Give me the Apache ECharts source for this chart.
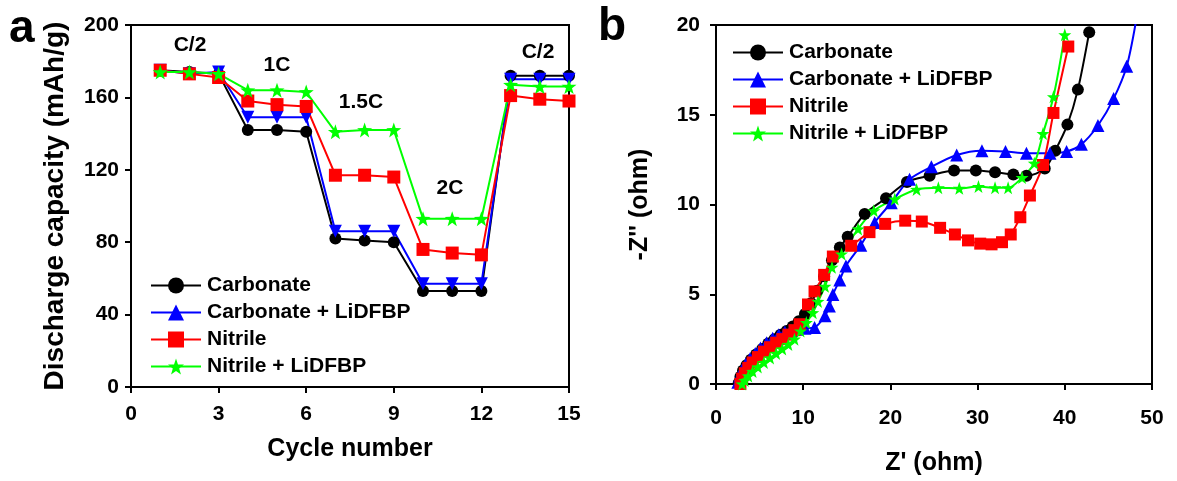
<!DOCTYPE html>
<html>
<head>
<meta charset="utf-8">
<script src="https://cdn.jsdelivr.net/npm/echarts@6/dist/echarts.min.js"></script>
<style>
  html, body { margin: 0; padding: 0; background: #fff; }
  #chart { width: 1177px; height: 481px; }
</style>
</head>
<body>
<div id="chart"></div>
<script>
// ---- Panel a: rate capability ----
const cycles = [1, 2, 3, 4, 5, 6, 7, 8, 9, 10, 11, 12, 13, 14, 15];
const carbonateCap       = [175, 174, 173, 142, 142, 141, 82, 81, 80, 53, 53, 53, 172, 172, 172];
const carbonateLiCap     = [175, 173, 174, 149, 149, 149, 86, 86, 86, 57, 57, 57, 170, 170, 170];
const nitrileCap         = [175, 173, 171, 158, 156, 155, 117, 117, 116, 76, 74, 73, 161, 159, 158];
const nitrileLiCap       = [174, 174, 173, 164, 164, 163, 141, 142, 142, 93, 93, 93, 167, 166, 166];
const rateLabels = ['C/2', '1C', '1.5C', '2C', 'C/2'];

// ---- Panel b: Nyquist plots, [Z', -Z''] in ohm ----
const carbonateEis = [
  [2.6, 0.05], [2.8, 0.4], [3.1, 0.75], [3.5, 1.05], [4.0, 1.35], [4.6, 1.65], [5.3, 1.95],
  [6.0, 2.25], [6.7, 2.5], [7.4, 2.75], [8.1, 2.95], [8.8, 3.2], [9.5, 3.5], [10.2, 3.9],
  [10.9, 4.5], [11.6, 5.2], [12.4, 6.0], [13.3, 6.9], [14.2, 7.6], [15.1, 8.2], [17.05, 9.47],
  [19.5, 10.35], [21.9, 11.25], [24.5, 11.6], [27.3, 11.9], [29.8, 11.9], [32.0, 11.8],
  [34.1, 11.67], [35.6, 11.6], [37.7, 12.0], [38.9, 13.0], [40.3, 14.45], [41.5, 16.4], [42.8, 19.6]
];
const carbonateLiEis = [
  [2.5, 0.1], [2.7, 0.45], [3.0, 0.8], [3.4, 1.1], [3.9, 1.4], [4.5, 1.7], [5.1, 2.0],
  [5.8, 2.3], [6.5, 2.55], [7.2, 2.75], [7.9, 2.9], [8.6, 3.0], [9.3, 3.05], [10.2, 3.1],
  [11.3, 3.15], [12.5, 3.8], [13.0, 4.34], [13.4, 4.98], [14.2, 5.8], [14.9, 6.58], [16.6, 7.73],
  [18.2, 9.0], [20.1, 10.1], [22.2, 11.4], [24.7, 12.1], [27.6, 12.76], [30.5, 13.0], [33.2, 12.95],
  [35.6, 12.86], [38.3, 12.86], [40.2, 12.95], [41.9, 13.35], [43.8, 14.4], [45.6, 15.9],
  [47.1, 17.7], [48.3, 20.6]
];
const nitrileEis = [
  [2.8, 0.0], [3.0, 0.3], [3.3, 0.6], [3.7, 0.9], [4.2, 1.2], [4.8, 1.5], [5.5, 1.8],
  [6.2, 2.05], [6.9, 2.3], [7.6, 2.5], [8.3, 2.75], [9.0, 3.0], [9.6, 3.33], [10.55, 4.43],
  [11.3, 5.16], [12.4, 6.08], [13.4, 7.1], [15.5, 7.7], [17.6, 8.46], [19.4, 8.92], [21.7, 9.1],
  [23.6, 9.05], [25.7, 8.7], [27.4, 8.33], [28.9, 8.0], [30.3, 7.82], [31.6, 7.78], [32.8, 7.9],
  [33.8, 8.33], [34.9, 9.29], [36.0, 10.5], [37.5, 12.2], [38.7, 15.1], [40.4, 18.8]
];
const nitrileLiEis = [
  [3.0, 0.0], [3.3, 0.2], [3.7, 0.45], [4.2, 0.7], [4.8, 0.95], [5.5, 1.2], [6.2, 1.45],
  [6.9, 1.7], [7.6, 1.95], [8.3, 2.2], [9.0, 2.5], [9.7, 2.95], [10.36, 3.42], [11.1, 3.97],
  [11.7, 4.6], [12.5, 5.44], [13.3, 6.5], [14.4, 7.24], [16.3, 8.64], [18.1, 9.65], [20.5, 10.3],
  [23.0, 10.84], [25.5, 10.93], [27.9, 10.9], [30.1, 11.0], [32.0, 10.93], [33.5, 10.93],
  [35.1, 11.5], [36.5, 12.3], [37.5, 13.95], [38.7, 16.0], [40.0, 19.45]
];

const seriesNames = ['Carbonate', 'Carbonate + LiDFBP', 'Nitrile', 'Nitrile + LiDFBP'];
const colors = ['#000000', '#0000ff', '#ff0000', '#00ff00'];

const FONT = '"Liberation Sans", Arial, sans-serif';
const boldText = (size) => ({ fontFamily: FONT, fontWeight: 'bold', fontSize: size, color: '#000' });

const chart = echarts.init(document.getElementById('chart'), null, { renderer: 'canvas' });

const axisCommon = {
  axisLine: { show: true, onZero: false, lineStyle: { color: '#000', width: 2 } },
  axisTick: { show: true, inside: false, length: 6, lineStyle: { color: '#000', width: 2 } },
  splitLine: { show: false },
  nameLocation: 'middle',
  nameTextStyle: boldText(25)
};

const starPath = 'path://M0,-10 L2.35,-3.24 L9.51,-3.09 L3.8,1.24 L5.88,8.09 L0,4 L-5.88,8.09 L-3.8,1.24 L-9.51,-3.09 L-2.35,-3.24 Z';

function lineSeries(name, idx, data, axisIdx, symbol, size, extra) {
  return Object.assign({
    name, type: 'line', data,
    xAxisIndex: axisIdx, yAxisIndex: axisIdx,
    symbol, symbolSize: size,
    color: colors[idx],
    lineStyle: { color: colors[idx], width: 2 },
    itemStyle: { color: colors[idx] },
    emphasis: { disabled: true },
    clip: true,
    animation: false
  }, extra || {});
}

const pairs = (ys) => cycles.map((c, i) => [c, ys[i]]);

const legendBase = {
  orient: 'vertical', itemWidth: 50, itemHeight: 20, itemGap: 6,
  symbolRotate: 0,
  textStyle: Object.assign(boldText(21), { padding: [0, 0, 0, 1] }),
  data: seriesNames.slice(),
  selectedMode: false
};

const option = {
  backgroundColor: '#fff',
  animation: false,
  grid: [
    { left: 131, top: 25, width: 438, height: 362, show: true, borderColor: '#000', borderWidth: 2, backgroundColor: 'transparent' },
    { left: 716, top: 25, width: 436, height: 364, show: true, borderColor: '#000', borderWidth: 2, backgroundColor: 'transparent' }
  ],
  xAxis: [
    Object.assign({}, axisCommon, {
      gridIndex: 0, type: 'value', min: 0, max: 15, interval: 3,
      name: 'Cycle number', nameGap: 50,
      axisLabel: Object.assign(boldText(21), { margin: 17 })
    }),
    Object.assign({}, axisCommon, {
      gridIndex: 1, type: 'value', min: 0, max: 50, interval: 10,
      name: "Z' (ohm)", nameGap: 67,
      axisLabel: Object.assign(boldText(21), { margin: 24 })
    })
  ],
  yAxis: [
    Object.assign({}, axisCommon, {
      gridIndex: 0, type: 'value', min: 0, max: 200, interval: 40,
      name: 'Discharge capacity (mAh/g)', nameGap: 62,
      nameTextStyle: boldText(28),
      axisLabel: Object.assign(boldText(21), { margin: 12 })
    }),
    Object.assign({}, axisCommon, {
      gridIndex: 1, type: 'value', min: 0, max: 20, interval: 5,
      name: "-Z'' (ohm)", nameGap: 63,
      axisLabel: Object.assign(boldText(21), { margin: 16 })
    })
  ],
  legend: [
    Object.assign({}, legendBase, { left: 145, top: 270 }),
    Object.assign({}, legendBase, { left: 727, top: 37 })
  ],
  graphic: [],
  series: []
};

// panel a series
option.series.push(
  lineSeries(seriesNames[0], 0, pairs(carbonateCap), 0, 'circle', 12),
  lineSeries(seriesNames[1], 1, pairs(carbonateLiCap), 0, 'triangle', 13, { symbolRotate: 180 }),
  lineSeries(seriesNames[2], 2, pairs(nitrileCap), 0, 'rect', 13),
  lineSeries(seriesNames[3], 3, pairs(nitrileLiCap), 0, starPath, 15)
);
// panel b series
option.series.push(
  lineSeries(seriesNames[0], 0, carbonateEis, 1, 'circle', 12, { smooth: 0.3 }),
  lineSeries(seriesNames[1], 1, carbonateLiEis, 1, 'triangle', 13, { smooth: 0.3 }),
  lineSeries(seriesNames[2], 2, nitrileEis, 1, 'rect', 12, { smooth: 0.3 }),
  lineSeries(seriesNames[3], 3, nitrileLiEis, 1, starPath, 13, { smooth: 0.3 })
);

// rate annotations and panel letters
const rateLabelPos = [[190, 45], [277, 65], [361, 102], [450, 188], [538, 52]];
rateLabels.forEach((t, i) => {
  option.graphic.push({
    type: 'text', x: rateLabelPos[i][0], y: rateLabelPos[i][1], silent: true,
    style: { text: t, font: 'bold 21px ' + FONT, fill: '#000', align: 'center', verticalAlign: 'middle' }
  });
});
option.graphic.push(
  { type: 'text', x: 9, y: 29, silent: true, style: { text: 'a', font: 'bold 46px ' + FONT, fill: '#000', verticalAlign: 'middle' } },
  { type: 'text', x: 598, y: 27, silent: true, style: { text: 'b', font: 'bold 46px ' + FONT, fill: '#000', verticalAlign: 'middle' } }
);

chart.setOption(option);
</script>
</body>
</html>
